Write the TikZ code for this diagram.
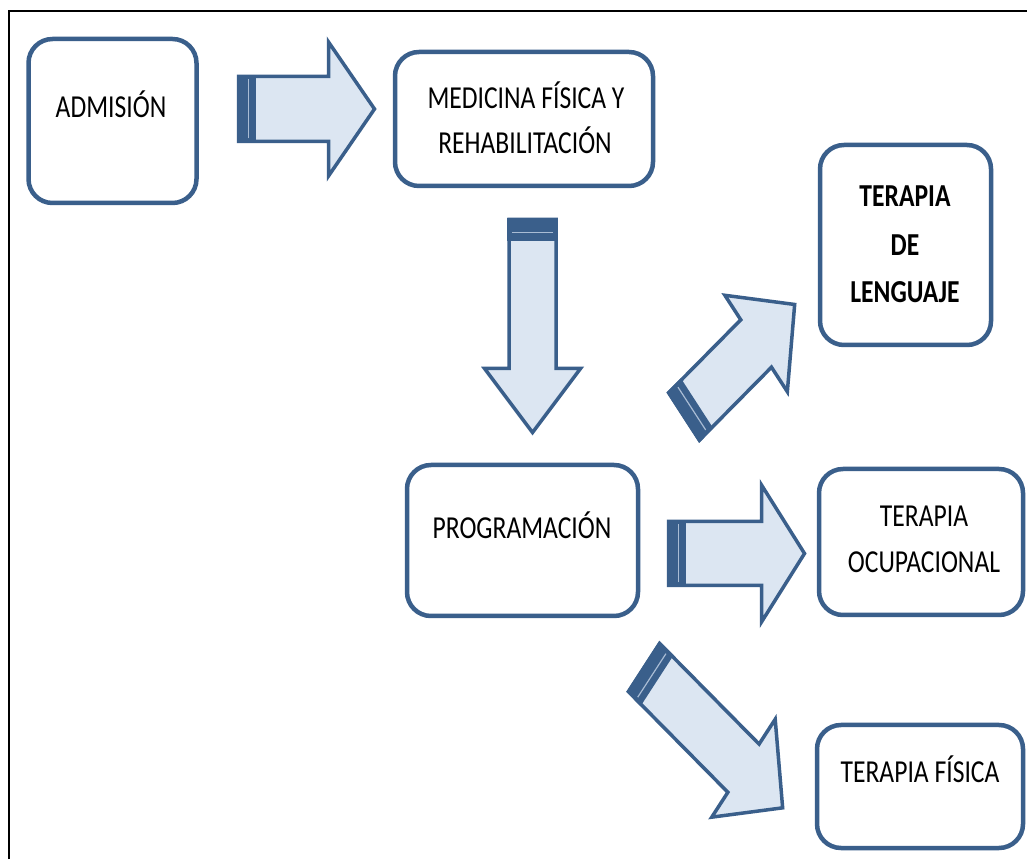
\documentclass[tikz,border=0pt]{standalone}
\usepackage{fontspec}
\setmainfont{Carlito}[FakeStretch=0.8]
\definecolor{dk}{HTML}{3A5F8B}
\definecolor{lt}{HTML}{DCE6F2}
\definecolor{ln}{HTML}{A9BCD4}
\tikzset{
  box/.style={draw=dk, line width=4.5pt, rounded corners=24pt, fill=white, inner sep=0pt},
  txt/.style={inner sep=0pt, text height=20.6pt, text depth=0pt, font=\fontsize{32}{46}\selectfont},
  arrbody/.style={fill=lt, draw=dk, line width=3.5pt, line join=miter},
}
% x y xscale angle length shaft head headlength band
\newcommand{\blockarr}[9]{%
  \begin{scope}[shift={(#1,#2)},xscale=#3,rotate=#4]
    \filldraw[arrbody] (0,{-#6/2}) -- ({#5-#8},{-#6/2}) -- ({#5-#8},{-#7/2}) -- (#5,0)
      -- ({#5-#8},{#7/2}) -- ({#5-#8},{#6/2}) -- (0,{#6/2}) -- cycle;
    \fill[dk] (-1.75,{-#6/2-1.75}) rectangle (#9,{#6/2+1.75});
    \draw[ln, line width=1.2pt] ({0.6*#9},{-#6/2+3}) -- ({0.6*#9},{#6/2-3});
  \end{scope}}
\begin{document}
\begin{tikzpicture}[x=1pt,y=1pt]
\useasboundingbox (0,0) rectangle (1027,859);
\fill[white] (0,0) rectangle (1027,859);
\draw[line width=2pt] (9,0) -- (9,848) -- (1027,848);

% boxes
\node[box, minimum width=168pt, minimum height=164pt] (adm) at (112.5,738) {};
\node[box, minimum width=258pt, minimum height=134pt] (med) at (524,740) {};
\node[box, minimum width=171pt, minimum height=200pt] (leng) at (905.5,614) {};
\node[box, minimum width=231pt, minimum height=151pt] (prog) at (522.5,318.5) {};
\node[box, minimum width=204pt, minimum height=146pt] (ocup) at (921,317) {};
\node[box, minimum width=206pt, minimum height=123pt] (fis) at (920,72.5) {};

% texts
\node[txt] (admT) at (111,751.5) {ADMISIÓN};
\node[txt] (medT1) at (526,761) {MEDICINA FÍSICA Y};
\node[txt] (medT2) at (525,716) {REHABILITACIÓN};
\node[txt, font=\fontsize{32}{46}\selectfont\bfseries] (lengT1) at (905,663) {TERAPIA};
\node[txt, font=\fontsize{32}{46}\selectfont\bfseries] (lengT2) at (905,614) {DE};
\node[txt, font=\fontsize{32}{46}\selectfont\bfseries] (lengT3) at (905,567) {LENGUAJE};
\node[txt] (progT) at (522,331) {PROGRAMACIÓN};
\node[txt] (ocupT1) at (924,343) {TERAPIA};
\node[txt] (ocupT2) at (924,297) {OCUPACIONAL};
\node[txt] (fisT) at (920,86.5) {TERAPIA FÍSICA};

% block arrows
\blockarr{238.5}{750}{1}{0}{136}{65}{134}{46}{17}
\blockarr{532.5}{639.5}{1}{-90}{213}{47}{96}{64}{22}
\blockarr{684}{442.5}{0.8}{39}{178}{61}{124}{62}{21}
\blockarr{668.5}{305.5}{1}{0}{136}{64}{137}{43}{17}
\blockarr{644}{191.5}{0.8}{-39}{223}{62}{126}{63}{21}
\end{tikzpicture}
\end{document}
